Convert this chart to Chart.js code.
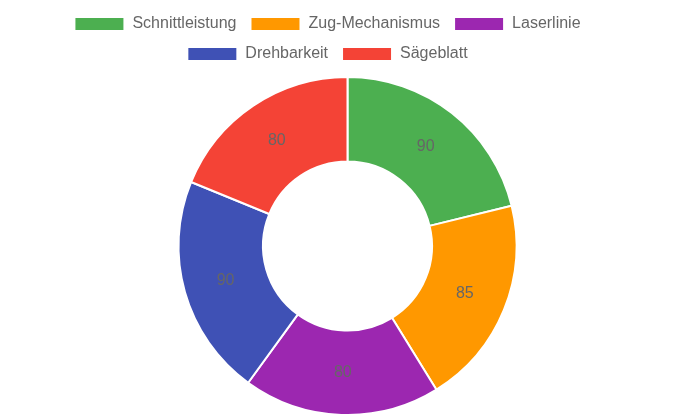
<!DOCTYPE html>
<html>
<head>
<meta charset="utf-8">
<script src="https://cdn.jsdelivr.net/npm/chart.js@4/dist/chart.umd.min.js"></script>
<style>
html,body{margin:0;padding:0;background:#fff;}
#wrap{width:695px;height:417px;position:relative;}
</style>
</head>
<body>
<div id="wrap"><canvas id="c"></canvas></div>
<script>
const categories = ["Schnittleistung", "Zug-Mechanismus", "Laserlinie", "Drehbarkeit", "Sägeblatt"];
const values = [90, 85, 80, 90, 80];
const colors = ["#4CAF50", "#FF9800", "#9C27B0", "#3F51B5", "#F44336"];

const valueLabels = {
  id: 'valueLabels',
  afterDatasetsDraw(chart) {
    const ctx = chart.ctx;
    const meta = chart.getDatasetMeta(0);
    ctx.save();
    ctx.font = '16px "Liberation Sans", Arial, sans-serif';
    ctx.fillStyle = '#666';
    ctx.textAlign = 'center';
    ctx.textBaseline = 'middle';
    meta.data.forEach((arc, i) => {
      const p = arc.tooltipPosition();
      ctx.fillText(String(chart.data.datasets[0].data[i]), p.x, p.y);
    });
    ctx.restore();
  }
};

const legendTweak = {
  id: 'legendTweak',
  beforeLayout(chart) {
    const lg = chart.legend;
    if (lg && !lg._patched) {
      const origFit = lg.fit.bind(lg);
      lg.fit = function () { origFit(); this.height += 4; };
      lg._patched = true;
    }
  },
  afterLayout(chart) {
    const lg = chart.legend;
    if (lg) { lg.left -= 20; lg.right -= 20; }
  }
};

new Chart(document.getElementById('c'), {
  type: 'doughnut',
  data: {
    labels: categories,
    datasets: [{
      data: values,
      backgroundColor: colors,
      borderColor: '#fff',
      borderWidth: 2
    }]
  },
  options: {
    responsive: true,
    maintainAspectRatio: false,
    animation: false,
    cutout: '50%',
    layout: { padding: { top: 2, bottom: 1, left: 20, right: 20 } },
    plugins: {
      legend: {
        position: 'top',
        labels: {
          color: '#666',
          font: { size: 16, family: '"Liberation Sans", Arial, sans-serif' },
          boxWidth: 50,
          boxHeight: 14,
          padding: 14
        }
      },
      tooltip: { enabled: false }
    }
  },
  plugins: [legendTweak, valueLabels]
});
</script>
</body>
</html>
